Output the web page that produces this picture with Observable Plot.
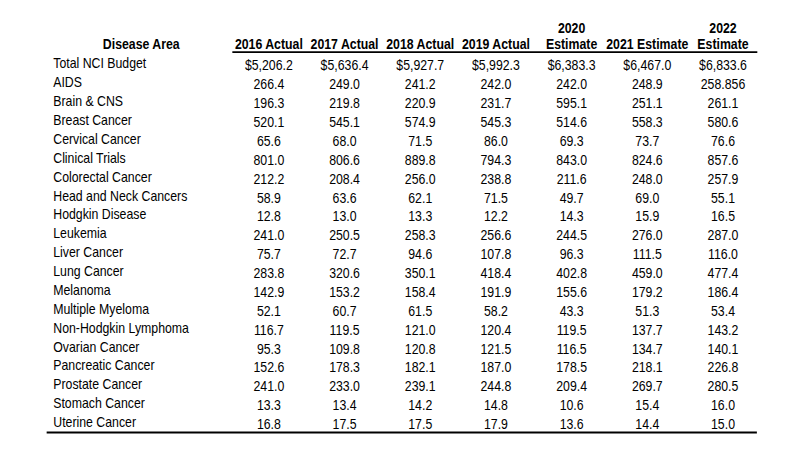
<!DOCTYPE html>
<html><head><meta charset="utf-8">
<script src="https://cdn.jsdelivr.net/npm/d3@7"></script>
<script src="https://cdn.jsdelivr.net/npm/@observablehq/plot@0.6"></script>
<style>body{margin:0;background:#fff} #chart svg{display:block}</style>
</head><body><div id="chart"></div>
<script>
const diseases = ["Total NCI Budget","AIDS","Brain & CNS","Breast Cancer","Cervical Cancer","Clinical Trials","Colorectal Cancer","Head and Neck Cancers","Hodgkin Disease","Leukemia","Liver Cancer","Lung Cancer","Melanoma","Multiple Myeloma","Non-Hodgkin Lymphoma","Ovarian Cancer","Pancreatic Cancer","Prostate Cancer","Stomach Cancer","Uterine Cancer"];
const columns = ["2016 Actual","2017 Actual","2018 Actual","2019 Actual","2020 Estimate","2021 Estimate","2022 Estimate"];
const headerLabels = ["2016 Actual","2017 Actual","2018 Actual","2019 Actual","2020\nEstimate","2021 Estimate","2022\nEstimate"];
const y2016 = [5206.2,266.4,196.3,520.1,65.6,801.0,212.2,58.9,12.8,241.0,75.7,283.8,142.9,52.1,116.7,95.3,152.6,241.0,13.3,16.8];
const y2017 = [5636.4,249.0,219.8,545.1,68.0,806.6,208.4,63.6,13.0,250.5,72.7,320.6,153.2,60.7,119.5,109.8,178.3,233.0,13.4,17.5];
const y2018 = [5927.7,241.2,220.9,574.9,71.5,889.8,256.0,62.1,13.3,258.3,94.6,350.1,158.4,61.5,121.0,120.8,182.1,239.1,14.2,17.5];
const y2019 = [5992.3,242.0,231.7,545.3,86.0,794.3,238.8,71.5,12.2,256.6,107.8,418.4,191.9,58.2,120.4,121.5,187.0,244.8,14.8,17.9];
const y2020 = [6383.3,242.0,595.1,514.6,69.3,843.0,211.6,49.7,14.3,244.5,96.3,402.8,155.6,43.3,119.5,116.5,178.5,209.4,10.6,13.6];
const y2021 = [6467.0,248.9,251.1,558.3,73.7,824.6,248.0,69.0,15.9,276.0,111.5,459.0,179.2,51.3,137.7,134.7,218.1,269.7,15.4,14.4];
const y2022 = [6833.6,258.856,261.1,580.6,76.6,857.6,257.9,55.1,16.5,287.0,116.0,477.4,186.4,53.4,143.2,140.1,226.8,280.5,16.0,15.0];
const series = [y2016,y2017,y2018,y2019,y2020,y2021,y2022];

const cells = [];
diseases.forEach((d, i) => columns.forEach((c, j) => cells.push({disease: d, row: i, column: c, value: series[j][i]})));
const fmt = d => d.row === 0 ? d3.format("$,.1f")(d.value)
  : (Math.round(d.value * 10) / 10 === d.value ? d.value.toFixed(1) : String(d.value));

const K = 0.88, W = Math.round(800 / K);
const font = "'Liberation Sans', Arial, Helvetica, sans-serif";
const chart = Plot.plot({
  width: W, height: 449,
  marginLeft: 53, marginRight: W - 860, marginTop: 0, marginBottom: 0,
  style: {fontFamily: font, fontSize: "14px", color: "#000", background: "#fff"},
  x: {type: "point", domain: columns, range: [304.5, 820.5], padding: 0, axis: null},
  y: {domain: [0, 19], range: [63.5, 422], axis: null},
  marks: [
    Plot.text(diseases, {y: (d, i) => i, text: d => d, frameAnchor: "left", textAnchor: "start", dx: 7, fill: "#000"}),
    Plot.text(cells, {x: "column", y: "row", text: fmt, dy: 2, fill: "#000"}),
    Plot.text(columns, {x: d => d, y: () => -1, text: (d, i) => headerLabels[i], lineAnchor: "bottom", lineHeight: 1.12, dy: 4, fontWeight: "bold", fill: "#000"}),
    Plot.text(["Disease Area"], {y: () => -1, frameAnchor: "left", textAnchor: "middle", dx: 107, lineAnchor: "bottom", dy: 4, fontWeight: "bold", fill: "#000"}),
    Plot.ruleY([-1], {x1: () => columns[0], x2: () => columns[6], dy: 7, insetLeft: -41, insetRight: -39.5, strokeWidth: 1.8, stroke: "#000"}),
    Plot.ruleY([19], {dy: 10, strokeWidth: 2, stroke: "#000"})
  ]
});
chart.setAttribute("width", 800);
chart.setAttribute("height", 449);
chart.setAttribute("preserveAspectRatio", "none");
chart.style.width = "800px";
chart.style.height = "449px";
chart.style.maxWidth = "none";
document.getElementById("chart").appendChild(chart);
</script>
</body></html>
